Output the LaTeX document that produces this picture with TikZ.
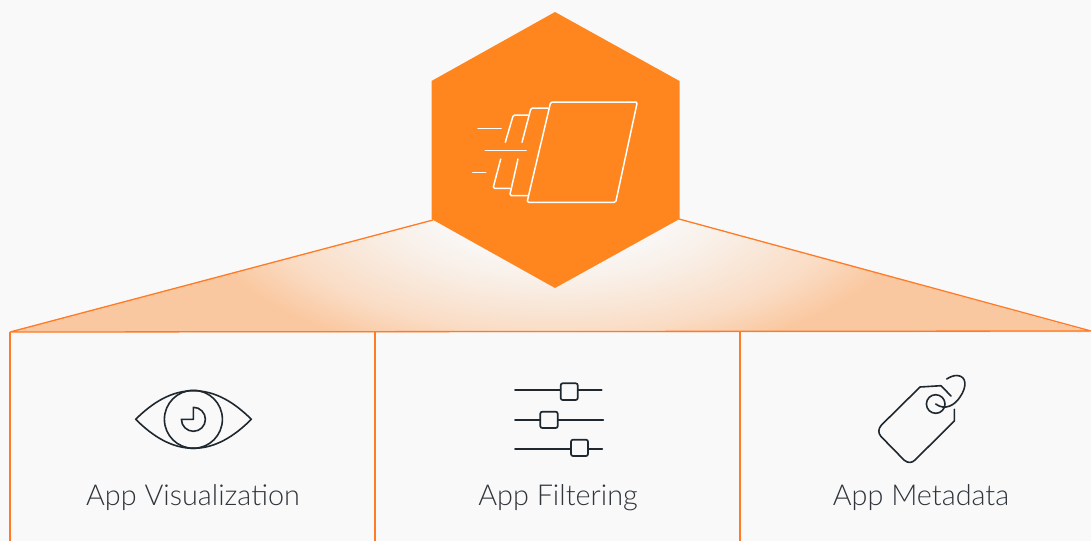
\documentclass[tikz,border=0pt]{standalone}
\usepackage{fontspec}
\setmainfont{Lato}[UprightFont=* Light]
\definecolor{bgc}{HTML}{F9F9F9}
\definecolor{org}{HTML}{FF861F}
\definecolor{edgec}{HTML}{FF7B25}
\definecolor{ink}{HTML}{1F282E}
\definecolor{txt}{HTML}{2F353B}
\definecolor{peach}{HTML}{FAC8A0}
\pgfdeclareradialshading{glow}{\pgfpoint{0bp}{0bp}}{%
 color(0bp)=(bgc); color(7.5bp)=(bgc); color(12.5bp)=(bgc!80!peach); color(20bp)=(bgc!42!peach); color(25bp)=(peach); color(50bp)=(peach)}
\tikzset{
 x=1pt,y=-1pt,
 hexa/.style={fill=org,draw=none},
 rule/.style={draw=edgec,line width=1.3pt,line join=bevel},
 pagel/.style={draw=white,line width=1.5pt,line cap=round,line join=round,rounded corners=1.5pt},
 icon/.style={draw=ink,line width=1.6pt,line cap=round,line join=round},
 knob/.style={draw=ink,line width=1.7pt,fill=bgc,rounded corners=2pt},
 label/.style={font=\fontsize{28.8}{32}\selectfont,text=txt,inner sep=0pt,anchor=base}
}
\begin{document}
\begin{tikzpicture}
\useasboundingbox (0,0) rectangle (1091,541);
\fill[bgc] (0,0) rectangle (1091,541);
% fan
\begin{scope}
\clip (433,220) -- (10,332) -- (1091,332) -- (679,219) -- cycle;
\fill[peach] (0,200) rectangle (1091,340);
\shade[shading=glow] (555-364,200-165) rectangle (555+364,200+165);
\end{scope}
\coordinate (fl) at (433,220);
\coordinate (fr) at (679,219);
\coordinate (tl) at (10,332);
\coordinate (tr) at (1091,331);
\draw[rule] (fl) -- (tl) -- (tr) -- (fr);
\draw[rule] (tl) -- (10,541);
\draw[rule] (375,332) -- (375,541);
\draw[rule] (740,332) -- (740,541);
% hexagon
\fill[hexa] (555,12) -- (679.5,81) -- (679.5,219) -- (555,288) -- (431.5,219) -- (431.5,81) -- cycle;
% pages icon
\draw[pagel] (550.7,102) -- (637.3,102) -- (615.7,202.3) -- (527,202.3) -- cycle;
\draw[pagel] (548.3,108) -- (531,108) -- (522,142.3);
\draw[pagel] (518,159) -- (509.7,195.5) -- (527.7,195.5);
\draw[pagel] (528.3,115) -- (513.3,115) -- (505.3,142.3);
\draw[pagel] (500.7,159) -- (493,188.3) -- (510,188.3);
\draw[pagel] (478,128.5) -- (501,128.5);
\draw[pagel] (485.3,150.5) -- (526,150.5);
\draw[pagel] (472.7,172.5) -- (485.7,172.5);
% eye
\draw[icon] (135.7,419.3) .. controls (153,402) and (172,390.7) .. (193.5,390.7) .. controls (215,390.7) and (234,402) .. (251.3,419.3) .. controls (234,436.6) and (215,448.3) .. (193.5,448.3) .. controls (172,448.3) and (153,436.6) .. (135.7,419.3) -- cycle;
\draw[icon] (193.4,419.3) circle (29);
\draw[icon] (193.4,407.3) arc[start angle=-90,end angle=180,radius=12] -- (193.4,419.3) -- cycle;
% sliders
\draw[icon] (515,390) -- (601.7,390);
\draw[knob] (560.7,383.3) rectangle (577.7,400);
\draw[icon] (515,420) -- (603.3,420);
\draw[knob] (540.3,411.7) rectangle (557.7,428);
\draw[icon] (515,449) -- (602.3,449);
\draw[knob] (571,439.7) rectangle (588,456);
% tag
\draw[icon] (951,396) -- (941,385.7) -- (920,387) -- (881.5,425) .. controls (878,429) and (878,433) .. (881,436.5) -- (904,460) .. controls (908,463.5) and (912,463) .. (915,460) -- (954.3,421) -- (954.3,409.3);
\draw[icon] (935.7,404) circle (9.3);
\draw[icon] (935.7,404) .. controls (945,411) and (955,405) .. (960,397) .. controls (967,387) and (967,376) .. (957,375.5) .. controls (953,375.5) and (950,377) .. (946.7,379);
% labels
\node[label] (a) at (193,505) {App Visualization};
\node[label] (b) at (558,505) {App Filtering};
\node[label] (c) at (921,505) {App Metadata};
\end{tikzpicture}
\end{document}
